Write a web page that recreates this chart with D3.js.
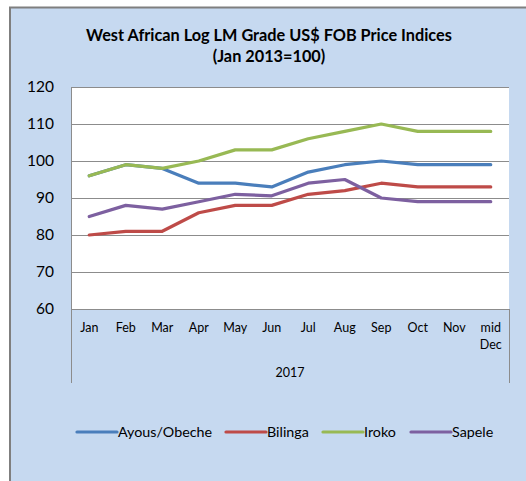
<!DOCTYPE html>
<html>
<head>
<meta charset="utf-8">
<script src="https://cdn.jsdelivr.net/npm/d3@7"></script>
<style>
  body { margin: 0; background: #fff; }
  svg text { font-family: Lato, "Open Sans", sans-serif; fill: #000; }
</style>
</head>
<body>
<div id="chart"></div>
<script>
// values
const months = ["Jan", "Feb", "Mar", "Apr", "May", "Jun", "Jul", "Aug", "Sep", "Oct", "Nov", "mid Dec"];
const ayous   = [96, 99, 98, 94, 94, 93, 97, 99, 100, 99, 99, 99];
const bilinga = [80, 81, 81, 86, 88, 88, 91, 92, 94, 93, 93, 93];
const iroko   = [96, 99, 98, 100, 103, 103, 106, 108, 110, 108, 108, 108];
const sapele  = [85, 88, 87, 89, 91, 90.6, 94, 95, 90, 89, 89, 89];
const yTicks = [60, 70, 80, 90, 100, 110, 120];
const seriesNames = ["Ayous/Obeche", "Bilinga", "Iroko", "Sapele"];
const seriesColors = ["#4a7ebb", "#be4b48", "#98b954", "#7d60a0"];

const series = [ayous, bilinga, iroko, sapele].map((vals, i) => ({
    name: seriesNames[i],
    color: seriesColors[i],
    values: vals
}));

const W = 526, H = 481;
const plot = { left: 71, top: 87, right: 509, bottom: 309 };

const svg = d3.select("#chart").append("svg")
    .attr("width", W)
    .attr("height", H);

// chart area background + frame
svg.append("rect")
    .attr("x", 10).attr("y", 8)
    .attr("width", W - 10).attr("height", H - 8)
    .attr("fill", "#c6d9f0");
svg.append("line").attr("x1", 9).attr("x2", W).attr("y1", 7.5).attr("y2", 7.5)
    .attr("stroke", "#7f7f7f").attr("stroke-width", 2);
svg.append("line").attr("x1", 10).attr("x2", 10).attr("y1", 7).attr("y2", H)
    .attr("stroke", "#7f7f7f").attr("stroke-width", 2);

// title
const title = svg.append("text")
    .attr("text-anchor", "middle")
    .style("font-weight", "bold")
    .style("font-size", "16.3px");
title.append("tspan").attr("x", 269).attr("y", 41).text("West African Log LM Grade US$ FOB Price Indices");
title.append("tspan").attr("x", 269).attr("y", 62).text("(Jan 2013=100)");

const x = d3.scaleBand()
    .domain(months)
    .range([plot.left, plot.right]);

const y = d3.scaleLinear()
    .domain([60, 120])
    .range([plot.bottom, plot.top]);

svg.append("rect")
    .attr("x", plot.left).attr("y", plot.top)
    .attr("width", plot.right - plot.left).attr("height", plot.bottom - plot.top)
    .attr("fill", "#fff");

// gridlines
svg.append("g")
    .selectAll("line")
    .data(yTicks)
    .join("line")
    .attr("x1", plot.left).attr("x2", plot.right)
    .attr("y1", d => Math.round(y(d)) + 0.5).attr("y2", d => Math.round(y(d)) + 0.5)
    .attr("stroke", "#8c8c8c")
    .attr("stroke-width", 1);

// y axis labels
const yAxis = d3.axisLeft(y).tickValues(yTicks).tickSize(0).tickPadding(17);
svg.append("g")
    .attr("transform", `translate(${plot.left},0)`)
    .call(yAxis)
    .call(g => g.select(".domain").remove())
    .selectAll("text")
    .style("font-family", "Lato, sans-serif")
    .style("font-size", "15.5px");

// left plot border and category-axis frame
svg.append("line")
    .attr("x1", plot.left + 0.5).attr("x2", plot.left + 0.5)
    .attr("y1", plot.top).attr("y2", 383)
    .attr("stroke", "#8c8c8c");
svg.append("line")
    .attr("x1", plot.right + 0.5).attr("x2", plot.right + 0.5)
    .attr("y1", plot.bottom).attr("y2", 383)
    .attr("stroke", "#8c8c8c");

// x axis labels
const xAxis = d3.axisBottom(x).tickSize(0).tickPadding(14);
const xg = svg.append("g")
    .attr("transform", `translate(0,${plot.bottom})`)
    .call(xAxis);
xg.select(".domain").remove();
xg.selectAll("text")
    .style("font-family", "Lato, sans-serif")
    .style("font-size", "12.5px")
    .each(function(d) {
        const parts = d.split(" ");
        if (parts.length > 1) {
            const t = d3.select(this).text(null);
            parts.forEach((p, i) => {
                t.append("tspan").attr("x", 0).attr("dy", i === 0 ? "0.71em" : "1.35em").text(p);
            });
        }
    });

svg.append("text")
    .attr("x", (plot.left + plot.right) / 2)
    .attr("y", 377)
    .attr("text-anchor", "middle")
    .style("font-size", "12.5px")
    .text("2017");

// lines
const line = d3.line()
    .x((d, i) => x(months[i]) + x.bandwidth() / 2)
    .y(d => y(d));

svg.append("g")
    .selectAll("path")
    .data(series)
    .join("path")
    .attr("d", d => line(d.values))
    .attr("fill", "none")
    .attr("stroke", d => d.color)
    .attr("stroke-width", 3.2)
    .attr("stroke-linejoin", "round")
    .attr("stroke-linecap", "round");

// legend
const legendX = [77, 226, 323, 411];
const legend = svg.append("g")
    .selectAll("g")
    .data(series)
    .join("g")
    .attr("transform", (d, i) => `translate(${legendX[i]},432)`);
legend.append("line")
    .attr("x1", 0).attr("x2", 40)
    .attr("stroke", d => d.color)
    .attr("stroke-width", 3.2)
    .attr("stroke-linecap", "round");
legend.append("text")
    .attr("x", 41)
    .attr("dy", "0.35em")
    .style("font-size", "14.3px")
    .text(d => d.name);
</script>
</body>
</html>
